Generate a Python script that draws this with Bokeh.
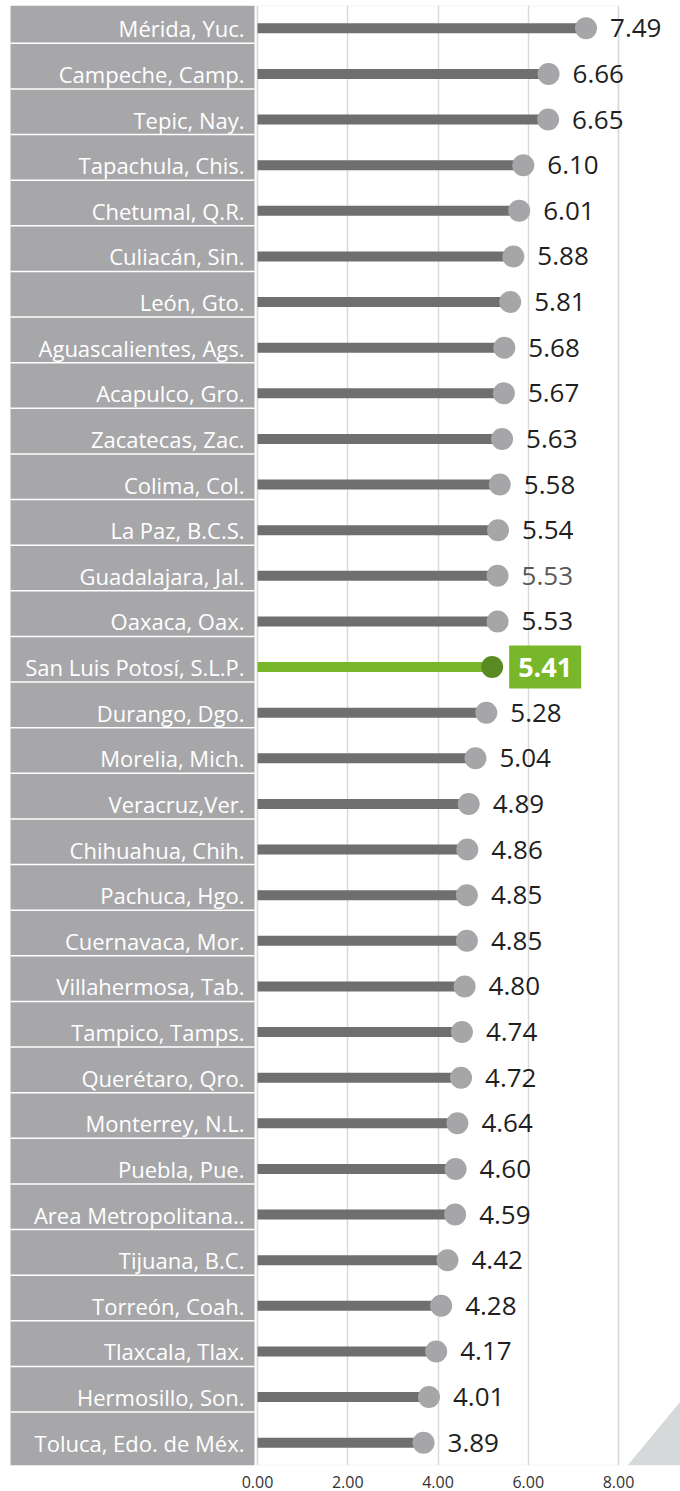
import numpy as np
from bokeh.plotting import figure
from bokeh.models import (FactorRange, Range1d, FixedTicker, PrintfTickFormatter,
                          BoxAnnotation, PolyAnnotation, ColumnDataSource)
from bokeh.transform import dodge
from bokeh.core.properties import value
from bokeh.embed import file_html
from bokeh.resources import INLINE

cities = [
    "Mérida, Yuc.", "Campeche, Camp.", "Tepic, Nay.", "Tapachula, Chis.",
    "Chetumal, Q.R.", "Culiacán, Sin.", "León, Gto.", "Aguascalientes, Ags.",
    "Acapulco, Gro.", "Zacatecas, Zac.", "Colima, Col.", "La Paz, B.C.S.",
    "Guadalajara, Jal.", "Oaxaca, Oax.", "San Luis Potosí, S.L.P.",
    "Durango, Dgo.", "Morelia, Mich.", "Veracruz,Ver.", "Chihuahua, Chih.",
    "Pachuca, Hgo.", "Cuernavaca, Mor.", "Villahermosa, Tab.",
    "Tampico, Tamps.", "Querétaro, Qro.", "Monterrey, N.L.", "Puebla, Pue.",
    "Area Metropolitana..", "Tijuana, B.C.", "Torreón, Coah.",
    "Tlaxcala, Tlax.", "Hermosillo, Son.", "Toluca, Edo. de Méx.",
]
values = [
    7.49, 6.66, 6.65, 6.10, 6.01, 5.88, 5.81, 5.68, 5.67, 5.63, 5.58, 5.54,
    5.53, 5.53, 5.41, 5.28, 5.04, 4.89, 4.86, 4.85, 4.85, 4.80, 4.74, 4.72,
    4.64, 4.60, 4.59, 4.42, 4.28, 4.17, 4.01, 3.89,
]
highlight = "San Luis Potosí, S.L.P."
dimmed = ["Guadalajara, Jal."]
x_ticks = [0, 2, 4, 6, 8]

# layout constants (pixels)
W = 680
H = 1491
X0_PX = 257          # canvas x of value 0
UNIT = (618 - 257) / 8.0
BOX_L_PX, BOX_R_PX = 10, 254
MARK_SHIFT = -0.21   # markers sit slightly left of the value

FONT = value("Open Sans")

xr = Range1d(-X0_PX / UNIT, (W - X0_PX) / UNIT)
yr = FactorRange(factors=cities[::-1])

p = figure(width=W, height=H, x_range=xr, y_range=yr, output_backend="svg",
           toolbar_location=None, y_axis_location=None, min_border=0,
           min_border_top=5, min_border_bottom=26)
p.outline_line_color = None
p.background_fill_color = "white"
p.border_fill_color = "white"

# grid / axis
p.xgrid.ticker = FixedTicker(ticks=x_ticks)
p.xgrid.grid_line_color = "#d9d9d9"
p.xgrid.grid_line_width = 1.5
p.ygrid.grid_line_color = None
p.xaxis.ticker = FixedTicker(ticks=x_ticks)
p.xaxis.formatter = PrintfTickFormatter(format="%.2f")
p.xaxis.axis_line_color = None
p.xaxis.major_tick_line_color = None
p.xaxis.minor_tick_line_color = None
p.xaxis.major_label_text_font = "Open Sans"
p.xaxis.major_label_text_font_size = "16px"
p.xaxis.major_label_text_color = "#333333"
p.xaxis.major_label_standoff = 4

# plot frame border
p.add_layout(BoxAnnotation(left=0, right=8, fill_color=None, fill_alpha=0,
                           line_color="#d9d9d9", line_width=2, level="underlay"))
# label column background
p.add_layout(BoxAnnotation(left=BOX_L_PX, right=BOX_R_PX, left_units="screen",
                           right_units="screen", fill_color="#a7a7aa",
                           fill_alpha=1, line_color=None, level="underlay"))

is_hl = [c == highlight for c in cities]
normal = ColumnDataSource(dict(
    city=[c for c, h in zip(cities, is_hl) if not h],
    val=[v for v, h in zip(values, is_hl) if not h],
    lab=[f"{v:.2f}" for v, h in zip(values, is_hl) if not h],
    col=["#595959" if c in dimmed else "#1f1f1f" for c, h in zip(cities, is_hl) if not h],
))
hl = ColumnDataSource(dict(
    city=[c for c, h in zip(cities, is_hl) if h],
    val=[v for v, h in zip(values, is_hl) if h],
    lab=[f"{v:.2f}" for v, h in zip(values, is_hl) if h],
))
allsrc = ColumnDataSource(dict(city=cities))
sepsrc = ColumnDataSource(dict(city=cities[1:]))

# row separators in label column
bl = (BOX_L_PX - X0_PX) / UNIT
br = (BOX_R_PX - X0_PX) / UNIT
p.segment(x0=bl, x1=br, y0=dodge("city", 0.67, range=yr),
          y1=dodge("city", 0.67, range=yr), source=sepsrc,
          line_color="white", line_width=1.5)

# row labels
p.text(x=0, y="city", text="city", source=allsrc, x_offset=-13,
       text_align="right", text_baseline="middle", text_color="white",
       text_font=FONT, text_font_size="22px")

# bars
xm = dodge("val", MARK_SHIFT)
p.hbar(y="city", left=0, right=xm, height=0.22, source=normal,
       fill_color="#6f6f6f", line_color=None)
p.hbar(y="city", left=0, right=xm, height=0.22, source=hl,
       fill_color="#78b72a", line_color=None)
# dots
p.scatter(x=xm, y="city", size=22, source=normal, fill_color="#a6a6a9",
          line_color=None)
p.scatter(x=xm, y="city", size=22, source=hl, fill_color="#5a8b22",
          line_color=None)
# value labels
p.text(x=xm, y="city", text="lab", source=normal, x_offset=24,
       text_align="left", text_baseline="middle", text_color="col",
       text_font=FONT, text_font_size="26px")
p.text(x=xm, y="city", text="lab", source=hl, x_offset=17,
       text_align="left", text_baseline="middle", text_color="white",
       text_font=FONT, text_font_size="27px", text_font_style="bold",
       background_fill_color="#78b72a", padding=dict(x=9, y=12))

# decorative corner triangle (screen units measured from the bottom)
p.add_layout(PolyAnnotation(xs=[627, 680, 680], ys=[0, 64, 0],
                            xs_units="screen", ys_units="screen",
                            fill_color="#d6d9d9", fill_alpha=1,
                            line_color=None))

open("out.html", "w").write(file_html(p, INLINE))
